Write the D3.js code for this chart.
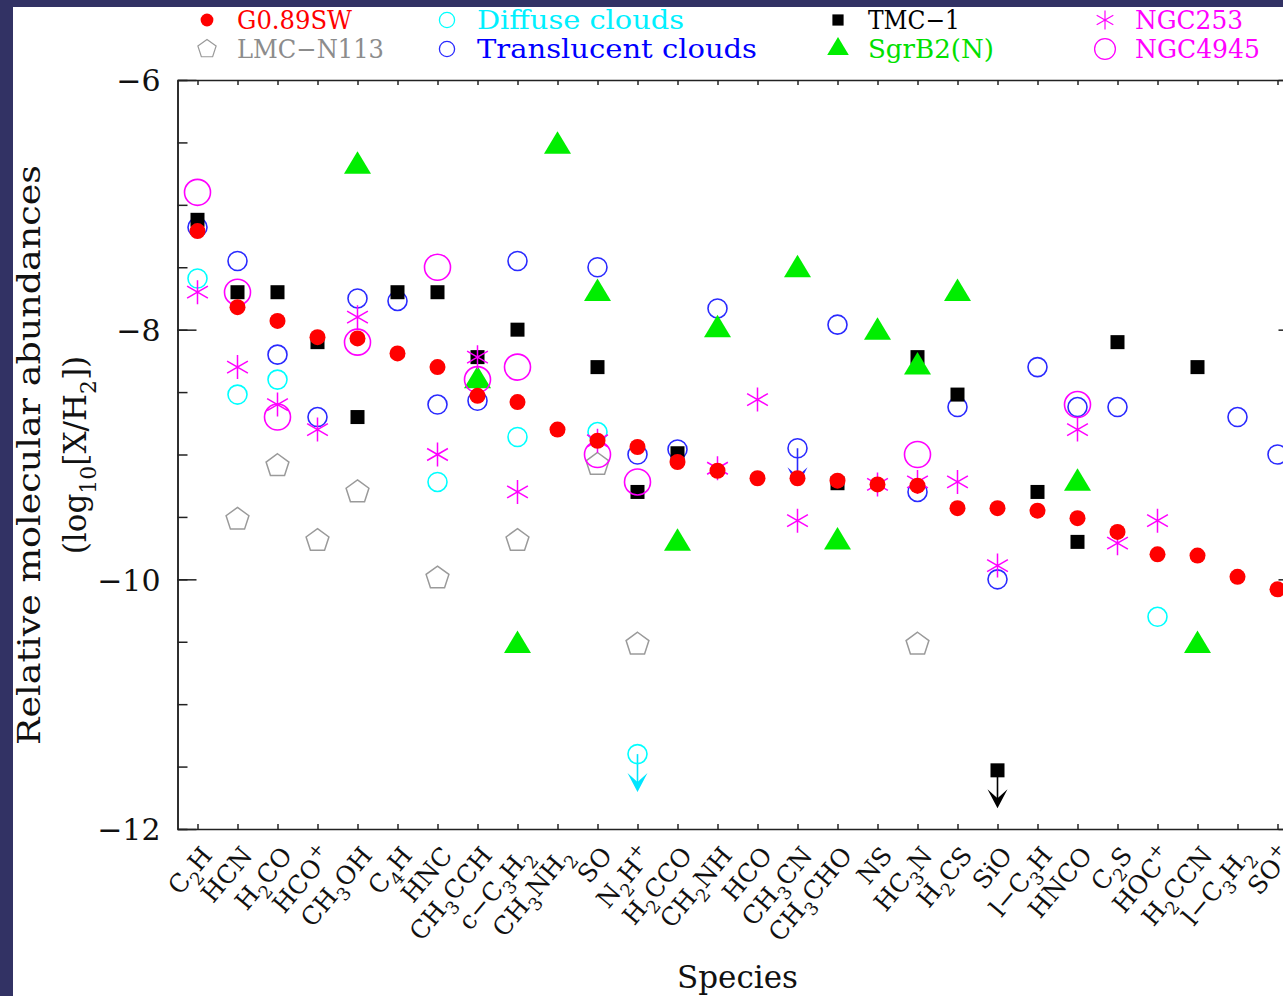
<!DOCTYPE html>
<html>
<head>
<meta charset="utf-8">
<script src="https://d3js.org/d3.v7.min.js"></script>
<style>
  body { margin: 0; background: #323264; }
  svg text { font-family: "DejaVu Serif", serif; }
</style>
</head>
<body>
<div id="chart"></div>
<script>
// ---- data (log10 abundances, null = no value) ----
var species = ["C_2H","HCN","H_2CO","HCO^+","CH_3OH","C_4H","HNC","CH_3CCH","c−C_3H_2","CH_3NH_2",
  "SO","N_2H^+","H_2CCO","CH_2NH","HCO","CH_3CN","CH_3CHO","NS","HC_3N","H_2CS",
  "SiO","l−C_3H","HNCO","C_2S","HOC^+","H_2CCN","l−C_3H_2","SO^+"];

var g089sw = [-7.21,-7.82,-7.93,-8.06,-8.07,-8.19,-8.30,-8.53,-8.58,-8.80,
  -8.89,-8.94,-9.06,-9.13,-9.19,-9.19,-9.21,-9.24,-9.25,-9.43,
  -9.43,-9.45,-9.51,-9.62,-9.80,-9.81,-9.98,-10.08];

var tmc1 = [-7.12,-7.70,-7.70,-8.10,-8.70,-7.70,-7.70,-8.22,-8.00,null,
  -8.30,-9.30,-8.99,null,null,null,-9.23,null,-8.22,-8.52,
  null,-9.30,-9.70,-8.10,null,-8.30,null,null];

var translucent = [-7.18,-7.45,-8.20,-8.70,-7.75,-7.77,-8.60,-8.57,-7.45,null,
  -7.50,-9.00,-8.96,-7.83,null,null,-7.96,null,-9.30,-8.62,
  -10.00,-8.30,-8.62,-8.62,null,null,-8.70,-9.00];

var diffuse = [-7.59,-8.52,-8.40,null,null,null,-9.22,null,-8.86,null,
  -8.82,null,null,null,null,null,null,null,null,null,
  null,null,null,null,-10.30,null,null,null];

var sgrb2 = [null,null,null,null,-6.69,null,null,-8.41,-10.53,-6.53,
  -7.71,null,-9.71,-8.00,null,-7.52,-9.70,-8.02,-8.30,-7.71,
  null,null,-9.23,null,null,-10.53,null,null];

var ngc253 = [-7.70,-8.30,-8.60,-8.80,-7.90,null,-9.00,-8.22,-9.30,null,
  -8.89,null,null,-9.11,-8.56,-9.53,null,-9.24,-9.22,-9.22,
  -9.89,null,-8.80,-9.71,-9.53,null,null,null];

var ngc4945 = [-6.90,-7.70,-8.70,null,-8.10,null,-7.50,-8.40,-8.30,null,
  -9.00,-9.22,null,null,null,null,null,null,-9.00,null,
  null,null,-8.60,null,null,null,null,null];

var lmcn113 = [null,-9.52,-9.09,-9.69,-9.30,null,-9.99,null,-9.69,null,
  -9.08,-10.52,null,null,null,null,null,null,-10.52,null,
  null,null,null,null,null,null,null,null];

// upper limits: [species index, value]
var diffuseLimits = [[11,-11.40]];
var translucentLimits = [[15,-8.95]];
var tmc1Limits = [[20,-11.53]];

var yMajor = [-6,-8,-10,-12];
var yMinor = d3.range(-12, -5.99, 0.5);

// ---- layout ----
var W = 1283, H = 996;
var svg = d3.select("#chart").append("svg").attr("width", W).attr("height", H);
svg.append("rect").attr("width", W).attr("height", H).attr("fill", "#323264");
svg.append("rect").attr("x", 13).attr("y", 7).attr("width", W).attr("height", H).attr("fill", "#fff");

var x = d3.scaleLinear().domain([-0.5, 27.5]).range([177.5, 1297.5]);
var y = d3.scaleLinear().domain([-12, -6]).range([829, 80]);
var L = x.range()[0], R = x.range()[1], T = y.range()[1], B = y.range()[0];

// axes
function styleAxis(g) {
  g.selectAll("path, line").attr("stroke", "#222").attr("stroke-width", 1.5);
}
svg.append("g").attr("transform", "translate(" + L + ",0)")
  .call(d3.axisLeft(y).tickValues(yMinor).tickSize(-10).tickSizeOuter(0).tickFormat(""))
  .call(styleAxis);
svg.append("g").attr("transform", "translate(" + L + ",0)")
  .call(d3.axisLeft(y).tickValues(yMajor).tickSize(-19).tickSizeOuter(0).tickPadding(17)
    .tickFormat(function(d) { return "−" + Math.abs(d); }))
  .call(styleAxis)
  .call(function(g) {
    g.selectAll("text").attr("font-size", 30).attr("fill", "#111")
      .attr("font-family", "DejaVu Serif").attr("dy", "0.36em");
  });
svg.append("g").attr("transform", "translate(" + R + ",0)")
  .call(d3.axisRight(y).tickValues(yMinor).tickSize(-10).tickSizeOuter(0).tickFormat(""))
  .call(styleAxis);
svg.append("g").attr("transform", "translate(" + R + ",0)")
  .call(d3.axisRight(y).tickValues(yMajor).tickSize(-19).tickSizeOuter(0).tickFormat(""))
  .call(styleAxis);
svg.append("g").attr("transform", "translate(0," + B + ")")
  .call(d3.axisBottom(x).tickValues(d3.range(species.length)).tickSize(-5).tickSizeOuter(0).tickFormat(""))
  .call(styleAxis);
svg.append("g").attr("transform", "translate(0," + T + ")")
  .call(d3.axisTop(x).tickValues(d3.range(species.length)).tickSize(-5).tickSizeOuter(0).tickFormat(""))
  .call(styleAxis);

// rich text helper: "_X" subscript, "^X" superscript
function rich(sel, str, size) {
  var sub = Math.round(size * 0.72), off = Math.round(size * 0.32);
  var shift = 0;
  for (var k = 0; k < str.length; k++) {
    var c = str[k];
    if ((c === "_" || c === "^") && k + 1 < str.length) {
      var s = c === "_" ? off : -off * 1.4;
      sel.append("tspan").attr("font-size", sub).attr("dy", s - shift).text(str[k + 1]);
      shift = s; k++;
    } else {
      sel.append("tspan").attr("font-size", size).attr("dy", -shift).text(c);
      shift = 0;
    }
  }
}

// category labels
species.forEach(function(s, i) {
  var t = svg.append("text")
    .attr("transform", "translate(" + (x(i) + 16) + ",856) rotate(-50)")
    .attr("text-anchor", "end").attr("fill", "#111");
  rich(t, s, 25);
});

// axis titles
svg.append("text").attr("transform", "translate(40,455) rotate(-90)")
  .attr("text-anchor", "middle").attr("font-size", 31).attr("fill", "#111")
  .attr("textLength", 580).attr("lengthAdjust", "spacingAndGlyphs")
  .text("Relative molecular abundances");
var t2 = svg.append("text").attr("transform", "translate(86,455) rotate(-90)")
  .attr("text-anchor", "middle").attr("fill", "#111");
rich(t2, "(log_1_0[X/H_2])", 31);
svg.append("text").attr("x", (L + R) / 2).attr("y", 988).attr("text-anchor", "middle")
  .attr("font-size", 31).attr("fill", "#111").text("Species");

// ---- marker shapes ----
var shapes = {
  dot: function(g, c) { g.append("circle").attr("r", 8).attr("fill", c); },
  square: function(g, c) { g.append("rect").attr("x", -7).attr("y", -7).attr("width", 14).attr("height", 14).attr("fill", c); },
  ring: function(g, c) { g.append("circle").attr("r", 9.5).attr("fill", "none").attr("stroke", c).attr("stroke-width", 1.6); },
  bigring: function(g, c) { g.append("circle").attr("r", 13).attr("fill", "none").attr("stroke", c).attr("stroke-width", 1.6); },
  triangle: function(g, c) { g.append("path").attr("d", "M0,-15L13.5,7.5L-13.5,7.5Z").attr("fill", c); },
  star: function(g, c) {
    var p = [90, 30, -30].map(function(a) {
      var r = a * Math.PI / 180, dx = 12 * Math.cos(r), dy = 12 * Math.sin(r);
      return "M" + (-dx) + "," + (-dy) + "L" + dx + "," + dy;
    }).join("");
    g.append("path").attr("d", p).attr("stroke", c).attr("stroke-width", 1.5).attr("fill", "none");
  },
  pentagon: function(g, c) {
    var pts = d3.range(5).map(function(k) {
      var a = (-90 + 72 * k) * Math.PI / 180;
      return [12 * Math.cos(a), 12 * Math.sin(a)];
    });
    g.append("path").attr("d", "M" + pts.join("L") + "Z").attr("fill", "none")
      .attr("stroke", c).attr("stroke-width", 1.5);
  }
};

var series = [
  {name: "LMC−N113", values: lmcn113, shape: "pentagon", color: "#9a9a9a", text: "#8c8c8c"},
  {name: "Diffuse clouds", values: diffuse, shape: "ring", color: "#00ffff", text: "#00f0ff"},
  {name: "Translucent clouds", values: translucent, shape: "ring", color: "#2a2aff", text: "#0000ff"},
  {name: "TMC−1", values: tmc1, shape: "square", color: "#000", text: "#000"},
  {name: "SgrB2(N)", values: sgrb2, shape: "triangle", color: "#00ee00", text: "#00e000"},
  {name: "NGC253", values: ngc253, shape: "star", color: "#ff00ff", text: "#ff00ff"},
  {name: "NGC4945", values: ngc4945, shape: "bigring", color: "#ff00ff", text: "#ff00ff"},
  {name: "G0.89SW", values: g089sw, shape: "dot", color: "#ff0000", text: "#ff0000"}
];

// upper limit arrows
function arrow(lims, color) {
  lims.forEach(function(l) {
    var g = svg.append("g").attr("transform", "translate(" + x(l[0]) + "," + y(l[1]) + ")");
    g.append("line").attr("y1", 0).attr("y2", 34).attr("stroke", color).attr("stroke-width", 1.6);
    g.append("path").attr("d", "M0,38L-10,19L0,28L10,19Z").attr("fill", color);
  });
}

series.forEach(function(s) {
  if (s.name === "TMC−1") arrow(tmc1Limits, "#000");
  if (s.name === "Diffuse clouds") arrow(diffuseLimits, "#00e5ff");
  if (s.name === "Translucent clouds") arrow(translucentLimits, "#2a2aff");
  var pts = [];
  s.values.forEach(function(v, i) { if (v !== null) pts.push([i, v]); });
  if (s.name === "TMC−1") pts = pts.concat(tmc1Limits);
  if (s.name === "Diffuse clouds") pts = pts.concat(diffuseLimits);
  if (s.name === "Translucent clouds") pts = pts.concat(translucentLimits);
  pts.forEach(function(p) {
    var g = svg.append("g").attr("transform", "translate(" + x(p[0]) + "," + y(p[1]) + ")");
    shapes[s.shape](g, s.color);
  });
});

// ---- legend ----
var legendOrder = ["G0.89SW", "LMC−N113", "Diffuse clouds", "Translucent clouds",
  "TMC−1", "SgrB2(N)", "NGC253", "NGC4945"];
var legendWidths = [115, 147, 207, 280, 92, 126, 108, 125];
var colX = [207, 447, 838, 1105], rowY = [20, 49];
legendOrder.forEach(function(n, k) {
  var s = series.filter(function(d) { return d.name === n; })[0];
  var cx = colX[Math.floor(k / 2)], cy = rowY[k % 2];
  var g = svg.append("g").attr("transform", "translate(" + cx + "," + cy + ") scale(0.8)");
  shapes[s.shape](g, s.color);
  svg.append("text").attr("x", cx + 30).attr("y", cy + 9)
    .attr("font-family", "Liberation Mono").attr("font-size", 26).attr("fill", s.text)
    .attr("textLength", legendWidths[k]).attr("lengthAdjust", "spacingAndGlyphs")
    .text(n);
});
</script>
</body>
</html>
